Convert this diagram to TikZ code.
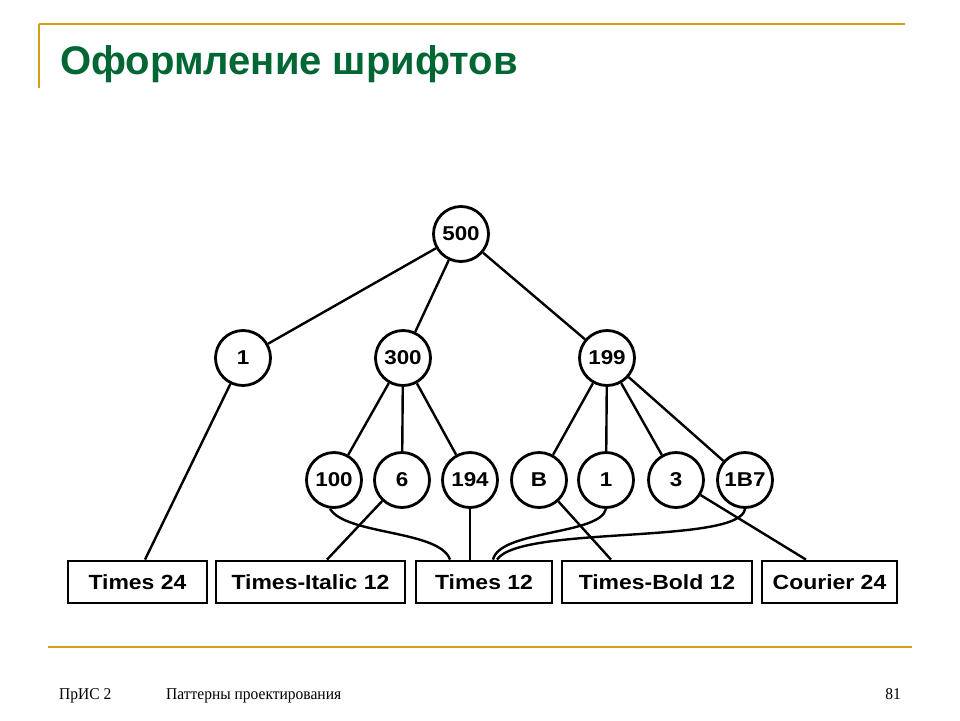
\documentclass[tikz,border=0pt]{standalone}
\usepackage{fontspec}
\setmainfont{Liberation Serif}
\newfontfamily\arialfont{Liberation Sans}
\newfontfamily\scanfont{Liberation Sans}[FakeStretch=1.12]
\newfontfamily\footfont{Liberation Serif}[FakeStretch=0.94]
\usepackage{tikz}
\usetikzlibrary{positioning}
\usepackage{xcolor}
\definecolor{slidegold}{RGB}{212,160,23}
\definecolor{slidegreen}{RGB}{0,102,51}
\tikzstyle{keynode} = [circle, draw=black, line width=2.8pt, minimum size=55pt, inner sep=0pt, font=\scanfont\bfseries\fontsize{20}{20}\selectfont]
\tikzstyle{fontbox} = [rectangle, draw=black, line width=2.8pt, minimum height=42pt, inner sep=0pt, font=\scanfont\bfseries\fontsize{20.5}{20.5}\selectfont]
\tikzstyle{link} = [line width=2.4pt, color=black]
\tikzstyle{footer} = [inner sep=0pt, font=\footfont\fontsize{16.5}{16.5}\selectfont]

\begin{document}
\begin{tikzpicture}[x=1pt, y=-1pt]
\useasboundingbox (0,0) rectangle (960,720);
% Slide frame
\draw[slidegold, line width=2pt] (39,24) -- (905,24);
\draw[slidegold, line width=2pt] (39,24) -- (39,88);
\draw[slidegold, line width=2.5pt] (48,647) -- (912,647);
\node[anchor=base west, inner sep=0pt, text=slidegreen, font=\arialfont\bfseries\fontsize{40}{40}\selectfont] (title) at (60,74) {Оформление шрифтов};

% Footer
\node[footer, anchor=base west] (course) at (59,699) {ПрИС 2};
\node[footer, anchor=base west] (topic) at (166,699) {Паттерны проектирования};
\node[footer, anchor=base east] (page) at (901,699) {81};

% Tree of character counts
\node[keynode] (n500) at (461,234) {500};
\node[keynode] (n1) at (243,358) {1};
\node[keynode] (n300) at (403,358) {300};
\node[keynode] (n199) at (607,358) {199};

\node[keynode] (n100) at (334,480) {100};
\node[keynode] (n6) at (402,480) {6};
\node[keynode] (n194) at (470,480) {194};
\node[keynode] (nB) at (539,480) {B};
\node[keynode] (n1b) at (606,480) {1};
\node[keynode] (n3) at (676,480) {3};
\node[keynode] (n1B7) at (745,480) {1B7};

% Font objects
\node[fontbox, minimum width=139pt] (times24) at (137.5,582) {Times 24};
\node[fontbox, minimum width=189pt] (italic12) at (310.5,582) {Times-Italic 12};
\node[fontbox, minimum width=136pt] (times12) at (484,582) {Times 12};
\node[fontbox, minimum width=190pt] (bold12) at (657,582) {Times-Bold 12};
\node[fontbox, minimum width=135pt] (courier24) at (829.5,582) {Courier 24};

% Tree edges
\draw[link] (n500) -- (n1);
\draw[link] (n500) -- (n300);
\draw[link] (n500) -- (n199);
\draw[link] (n300) -- (n100);
\draw[link] (n300) -- (n6);
\draw[link] (n300) -- (n194);
\draw[link] (n199) -- (nB);
\draw[link] (n199) -- (n1b);
\draw[link] (n199) -- (n3);
\draw[link] (n199) -- (n1B7);

% Leaves to fonts
\draw[link] (n1) -- ([xshift=7.5pt]times24.north);
\draw[link] (n6) -- ([xshift=16.5pt]italic12.north);
\draw[link] (n194) -- (n194 |- times12.north);
\draw[link] (nB) -- ([xshift=-46pt]bold12.north);
\draw[link] (n3) -- ([xshift=-23.5pt]courier24.north);
\draw[link] (n100.-98) .. controls (345,535) and (440,530) .. ([xshift=-34pt]times12.north);
\draw[link] (n1b.south) .. controls (600,535) and (500,530) .. ([xshift=9pt]times12.north);
\draw[link] (n1B7.south) .. controls (740,545) and (520,525) .. ([xshift=13pt]times12.north);
\end{tikzpicture}
\end{document}
